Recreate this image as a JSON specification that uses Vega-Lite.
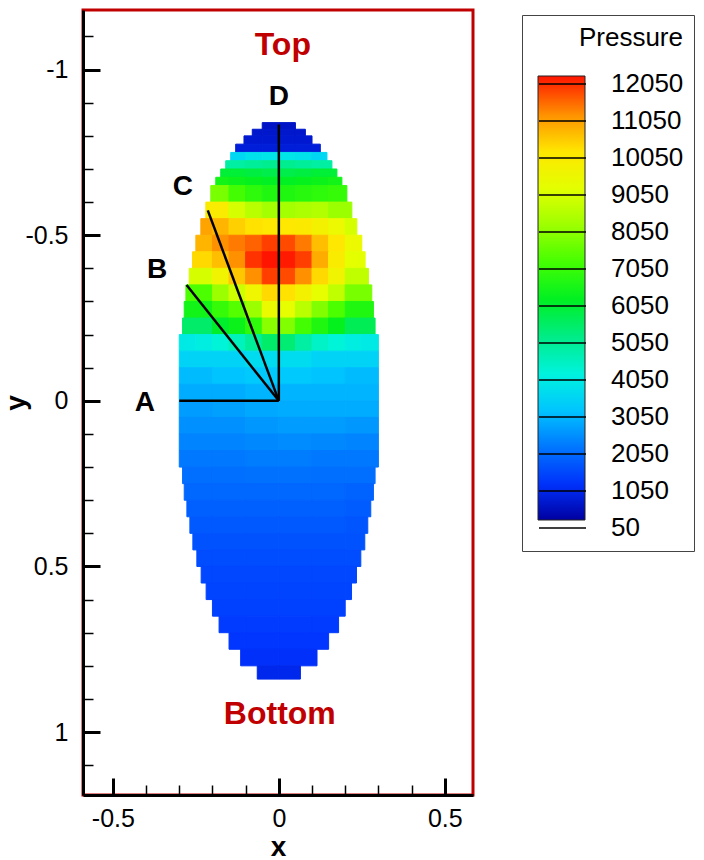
{
"$schema":"https://vega.github.io/schema/vega-lite/v6.json",
"width":390,"height":785,
"autosize":"none",
"padding":{"left":83,"top":10,"right":231,"bottom":65},
"config":{"view":{"stroke":"#c00000","strokeWidth":3},"font":"Liberation Sans"},
"datasets":{
"cells":[
{"x1":-0.05,"x2":0,"y1":-0.84,"y2":-0.82,"p":450},{"x1":0,"x2":0.05,"y1":-0.84,"y2":-0.82,"p":450},
{"x1":-0.08,"x2":-0.05,"y1":-0.82,"y2":-0.8,"p":500},{"x1":-0.05,"x2":0,"y1":-0.82,"y2":-0.8,"p":500},{"x1":0,"x2":0.05,"y1":-0.82,"y2":-0.8,"p":500},{"x1":0.05,"x2":0.08,"y1":-0.82,"y2":-0.8,"p":500},
{"x1":-0.105,"x2":-0.05,"y1":-0.8,"y2":-0.775,"p":550},{"x1":-0.05,"x2":0,"y1":-0.8,"y2":-0.775,"p":550},{"x1":0,"x2":0.05,"y1":-0.8,"y2":-0.775,"p":550},{"x1":0.05,"x2":0.1,"y1":-0.8,"y2":-0.775,"p":550},
{"x1":-0.13,"x2":-0.05,"y1":-0.775,"y2":-0.75,"p":650},{"x1":-0.05,"x2":0,"y1":-0.775,"y2":-0.75,"p":650},{"x1":0,"x2":0.05,"y1":-0.775,"y2":-0.75,"p":650},{"x1":0.05,"x2":0.125,"y1":-0.775,"y2":-0.75,"p":650},
{"x1":-0.145,"x2":-0.1,"y1":-0.75,"y2":-0.725,"p":3400},{"x1":-0.1,"x2":-0.05,"y1":-0.75,"y2":-0.725,"p":3600},{"x1":-0.05,"x2":0,"y1":-0.75,"y2":-0.725,"p":3700},{"x1":0,"x2":0.05,"y1":-0.75,"y2":-0.725,"p":3700},{"x1":0.05,"x2":0.1,"y1":-0.75,"y2":-0.725,"p":3600},{"x1":0.1,"x2":0.145,"y1":-0.75,"y2":-0.725,"p":3400},
{"x1":-0.16,"x2":-0.1,"y1":-0.725,"y2":-0.7,"p":4700},{"x1":-0.1,"x2":-0.05,"y1":-0.725,"y2":-0.7,"p":4800},{"x1":-0.05,"x2":0,"y1":-0.725,"y2":-0.7,"p":4900},{"x1":0,"x2":0.05,"y1":-0.725,"y2":-0.7,"p":4900},{"x1":0.05,"x2":0.1,"y1":-0.725,"y2":-0.7,"p":4800},{"x1":0.1,"x2":0.16,"y1":-0.725,"y2":-0.7,"p":4700},
{"x1":-0.175,"x2":-0.1,"y1":-0.7,"y2":-0.675,"p":5800},{"x1":-0.1,"x2":-0.05,"y1":-0.7,"y2":-0.675,"p":5700},{"x1":-0.05,"x2":0,"y1":-0.7,"y2":-0.675,"p":5600},{"x1":0,"x2":0.05,"y1":-0.7,"y2":-0.675,"p":5600},{"x1":0.05,"x2":0.1,"y1":-0.7,"y2":-0.675,"p":5700},{"x1":0.1,"x2":0.175,"y1":-0.7,"y2":-0.675,"p":5800},
{"x1":-0.19,"x2":-0.15,"y1":-0.675,"y2":-0.65,"p":6300},{"x1":-0.15,"x2":-0.1,"y1":-0.675,"y2":-0.65,"p":6200},{"x1":-0.1,"x2":-0.05,"y1":-0.675,"y2":-0.65,"p":6100},{"x1":-0.05,"x2":0,"y1":-0.675,"y2":-0.65,"p":6000},{"x1":0,"x2":0.05,"y1":-0.675,"y2":-0.65,"p":6000},{"x1":0.05,"x2":0.1,"y1":-0.675,"y2":-0.65,"p":6100},{"x1":0.1,"x2":0.15,"y1":-0.675,"y2":-0.65,"p":6200},{"x1":0.15,"x2":0.19,"y1":-0.675,"y2":-0.65,"p":6300},
{"x1":-0.205,"x2":-0.15,"y1":-0.65,"y2":-0.6,"p":7600},{"x1":-0.15,"x2":-0.1,"y1":-0.65,"y2":-0.6,"p":7000},{"x1":-0.1,"x2":-0.05,"y1":-0.65,"y2":-0.6,"p":6700},{"x1":-0.05,"x2":0,"y1":-0.65,"y2":-0.6,"p":6500},{"x1":0,"x2":0.05,"y1":-0.65,"y2":-0.6,"p":6500},{"x1":0.05,"x2":0.1,"y1":-0.65,"y2":-0.6,"p":6600},{"x1":0.1,"x2":0.15,"y1":-0.65,"y2":-0.6,"p":6700},{"x1":0.15,"x2":0.205,"y1":-0.65,"y2":-0.6,"p":6800},
{"x1":-0.22,"x2":-0.15,"y1":-0.6,"y2":-0.55,"p":9800},{"x1":-0.15,"x2":-0.1,"y1":-0.6,"y2":-0.55,"p":8800},{"x1":-0.1,"x2":-0.05,"y1":-0.6,"y2":-0.55,"p":8400},{"x1":-0.05,"x2":0,"y1":-0.6,"y2":-0.55,"p":8100},{"x1":0,"x2":0.05,"y1":-0.6,"y2":-0.55,"p":8100},{"x1":0.05,"x2":0.1,"y1":-0.6,"y2":-0.55,"p":8200},{"x1":0.1,"x2":0.15,"y1":-0.6,"y2":-0.55,"p":8300},{"x1":0.15,"x2":0.22,"y1":-0.6,"y2":-0.55,"p":8000},
{"x1":-0.235,"x2":-0.2,"y1":-0.55,"y2":-0.5,"p":10800},{"x1":-0.2,"x2":-0.15,"y1":-0.55,"y2":-0.5,"p":10600},{"x1":-0.15,"x2":-0.1,"y1":-0.55,"y2":-0.5,"p":10300},{"x1":-0.1,"x2":-0.05,"y1":-0.55,"y2":-0.5,"p":10100},{"x1":-0.05,"x2":0,"y1":-0.55,"y2":-0.5,"p":10000},{"x1":0,"x2":0.05,"y1":-0.55,"y2":-0.5,"p":10000},{"x1":0.05,"x2":0.1,"y1":-0.55,"y2":-0.5,"p":9900},{"x1":0.1,"x2":0.15,"y1":-0.55,"y2":-0.5,"p":9600},{"x1":0.15,"x2":0.2,"y1":-0.55,"y2":-0.5,"p":9300},{"x1":0.2,"x2":0.235,"y1":-0.55,"y2":-0.5,"p":8800},
{"x1":-0.25,"x2":-0.2,"y1":-0.5,"y2":-0.45,"p":10600},{"x1":-0.2,"x2":-0.15,"y1":-0.5,"y2":-0.45,"p":11000},{"x1":-0.15,"x2":-0.1,"y1":-0.5,"y2":-0.45,"p":11200},{"x1":-0.1,"x2":-0.05,"y1":-0.5,"y2":-0.45,"p":11400},{"x1":-0.05,"x2":0,"y1":-0.5,"y2":-0.45,"p":11700},{"x1":0,"x2":0.05,"y1":-0.5,"y2":-0.45,"p":11600},{"x1":0.05,"x2":0.1,"y1":-0.5,"y2":-0.45,"p":11200},{"x1":0.1,"x2":0.15,"y1":-0.5,"y2":-0.45,"p":10500},{"x1":0.15,"x2":0.2,"y1":-0.5,"y2":-0.45,"p":10000},{"x1":0.2,"x2":0.25,"y1":-0.5,"y2":-0.45,"p":9300},
{"x1":-0.26,"x2":-0.2,"y1":-0.45,"y2":-0.4,"p":10200},{"x1":-0.2,"x2":-0.15,"y1":-0.45,"y2":-0.4,"p":10500},{"x1":-0.15,"x2":-0.1,"y1":-0.45,"y2":-0.4,"p":11000},{"x1":-0.1,"x2":-0.05,"y1":-0.45,"y2":-0.4,"p":11800},{"x1":-0.05,"x2":0,"y1":-0.45,"y2":-0.4,"p":12050},{"x1":0,"x2":0.05,"y1":-0.45,"y2":-0.4,"p":12000},{"x1":0.05,"x2":0.1,"y1":-0.45,"y2":-0.4,"p":11700},{"x1":0.1,"x2":0.15,"y1":-0.45,"y2":-0.4,"p":10700},{"x1":0.15,"x2":0.2,"y1":-0.45,"y2":-0.4,"p":9800},{"x1":0.2,"x2":0.26,"y1":-0.45,"y2":-0.4,"p":9000},
{"x1":-0.27,"x2":-0.2,"y1":-0.4,"y2":-0.35,"p":8800},{"x1":-0.2,"x2":-0.15,"y1":-0.4,"y2":-0.35,"p":9500},{"x1":-0.15,"x2":-0.1,"y1":-0.4,"y2":-0.35,"p":10400},{"x1":-0.1,"x2":-0.05,"y1":-0.4,"y2":-0.35,"p":11000},{"x1":-0.05,"x2":0,"y1":-0.4,"y2":-0.35,"p":11700},{"x1":0,"x2":0.05,"y1":-0.4,"y2":-0.35,"p":11600},{"x1":0.05,"x2":0.1,"y1":-0.4,"y2":-0.35,"p":11000},{"x1":0.1,"x2":0.15,"y1":-0.4,"y2":-0.35,"p":10200},{"x1":0.15,"x2":0.2,"y1":-0.4,"y2":-0.35,"p":9500},{"x1":0.2,"x2":0.27,"y1":-0.4,"y2":-0.35,"p":8500},
{"x1":-0.28,"x2":-0.2,"y1":-0.35,"y2":-0.3,"p":7100},{"x1":-0.2,"x2":-0.15,"y1":-0.35,"y2":-0.3,"p":8000},{"x1":-0.15,"x2":-0.1,"y1":-0.35,"y2":-0.3,"p":8700},{"x1":-0.1,"x2":-0.05,"y1":-0.35,"y2":-0.3,"p":9400},{"x1":-0.05,"x2":0,"y1":-0.35,"y2":-0.3,"p":10200},{"x1":0,"x2":0.05,"y1":-0.35,"y2":-0.3,"p":10100},{"x1":0.05,"x2":0.1,"y1":-0.35,"y2":-0.3,"p":9600},{"x1":0.1,"x2":0.15,"y1":-0.35,"y2":-0.3,"p":9100},{"x1":0.15,"x2":0.2,"y1":-0.35,"y2":-0.3,"p":8500},{"x1":0.2,"x2":0.28,"y1":-0.35,"y2":-0.3,"p":7600},
{"x1":-0.285,"x2":-0.2,"y1":-0.3,"y2":-0.25,"p":6300},{"x1":-0.2,"x2":-0.15,"y1":-0.3,"y2":-0.25,"p":6800},{"x1":-0.15,"x2":-0.1,"y1":-0.3,"y2":-0.25,"p":7200},{"x1":-0.1,"x2":-0.05,"y1":-0.3,"y2":-0.25,"p":8000},{"x1":-0.05,"x2":0,"y1":-0.3,"y2":-0.25,"p":9200},{"x1":0,"x2":0.05,"y1":-0.3,"y2":-0.25,"p":9100},{"x1":0.05,"x2":0.1,"y1":-0.3,"y2":-0.25,"p":8400},{"x1":0.1,"x2":0.15,"y1":-0.3,"y2":-0.25,"p":7700},{"x1":0.15,"x2":0.2,"y1":-0.3,"y2":-0.25,"p":7100},{"x1":0.2,"x2":0.285,"y1":-0.3,"y2":-0.25,"p":6500},
{"x1":-0.29,"x2":-0.2,"y1":-0.25,"y2":-0.2,"p":5300},{"x1":-0.2,"x2":-0.15,"y1":-0.25,"y2":-0.2,"p":5900},{"x1":-0.15,"x2":-0.1,"y1":-0.25,"y2":-0.2,"p":6200},{"x1":-0.1,"x2":-0.05,"y1":-0.25,"y2":-0.2,"p":6700},{"x1":-0.05,"x2":0,"y1":-0.25,"y2":-0.2,"p":7800},{"x1":0,"x2":0.05,"y1":-0.25,"y2":-0.2,"p":7700},{"x1":0.05,"x2":0.1,"y1":-0.25,"y2":-0.2,"p":7000},{"x1":0.1,"x2":0.15,"y1":-0.25,"y2":-0.2,"p":6500},{"x1":0.15,"x2":0.2,"y1":-0.25,"y2":-0.2,"p":6100},{"x1":0.2,"x2":0.29,"y1":-0.25,"y2":-0.2,"p":5500},
{"x1":-0.3,"x2":-0.25,"y1":-0.2,"y2":-0.15,"p":3800},{"x1":-0.25,"x2":-0.2,"y1":-0.2,"y2":-0.15,"p":3900},{"x1":-0.2,"x2":-0.15,"y1":-0.2,"y2":-0.15,"p":4100},{"x1":-0.15,"x2":-0.1,"y1":-0.2,"y2":-0.15,"p":4400},{"x1":-0.1,"x2":-0.05,"y1":-0.2,"y2":-0.15,"p":4800},{"x1":-0.05,"x2":0,"y1":-0.2,"y2":-0.15,"p":5300},{"x1":0,"x2":0.05,"y1":-0.2,"y2":-0.15,"p":5200},{"x1":0.05,"x2":0.1,"y1":-0.2,"y2":-0.15,"p":4700},{"x1":0.1,"x2":0.15,"y1":-0.2,"y2":-0.15,"p":4300},{"x1":0.15,"x2":0.2,"y1":-0.2,"y2":-0.15,"p":4100},{"x1":0.2,"x2":0.25,"y1":-0.2,"y2":-0.15,"p":3900},{"x1":0.25,"x2":0.3,"y1":-0.2,"y2":-0.15,"p":3800},
{"x1":-0.3,"x2":-0.2,"y1":-0.15,"y2":-0.1,"p":3300},{"x1":-0.2,"x2":-0.1,"y1":-0.15,"y2":-0.1,"p":3300},{"x1":-0.1,"x2":0,"y1":-0.15,"y2":-0.1,"p":3500},{"x1":0,"x2":0.1,"y1":-0.15,"y2":-0.1,"p":3500},{"x1":0.1,"x2":0.2,"y1":-0.15,"y2":-0.1,"p":3300},{"x1":0.2,"x2":0.3,"y1":-0.15,"y2":-0.1,"p":3300},
{"x1":-0.3,"x2":-0.2,"y1":-0.1,"y2":-0.05,"p":2900},{"x1":-0.2,"x2":-0.1,"y1":-0.1,"y2":-0.05,"p":3000},{"x1":-0.1,"x2":0,"y1":-0.1,"y2":-0.05,"p":3100},{"x1":0,"x2":0.1,"y1":-0.1,"y2":-0.05,"p":3100},{"x1":0.1,"x2":0.2,"y1":-0.1,"y2":-0.05,"p":3000},{"x1":0.2,"x2":0.3,"y1":-0.1,"y2":-0.05,"p":2900},
{"x1":-0.3,"x2":-0.2,"y1":-0.05,"y2":0,"p":2700},{"x1":-0.2,"x2":-0.1,"y1":-0.05,"y2":0,"p":2700},{"x1":-0.1,"x2":0,"y1":-0.05,"y2":0,"p":2800},{"x1":0,"x2":0.1,"y1":-0.05,"y2":0,"p":2800},{"x1":0.1,"x2":0.2,"y1":-0.05,"y2":0,"p":2800},{"x1":0.2,"x2":0.3,"y1":-0.05,"y2":0,"p":2800},
{"x1":-0.3,"x2":-0.2,"y1":0,"y2":0.05,"p":2500},{"x1":-0.2,"x2":-0.1,"y1":0,"y2":0.05,"p":2550},{"x1":-0.1,"x2":0,"y1":0,"y2":0.05,"p":2650},{"x1":0,"x2":0.1,"y1":0,"y2":0.05,"p":2700},{"x1":0.1,"x2":0.2,"y1":0,"y2":0.05,"p":2700},{"x1":0.2,"x2":0.3,"y1":0,"y2":0.05,"p":2700},
{"x1":-0.3,"x2":-0.2,"y1":0.05,"y2":0.1,"p":2350},{"x1":-0.2,"x2":-0.1,"y1":0.05,"y2":0.1,"p":2350},{"x1":-0.1,"x2":0,"y1":0.05,"y2":0.1,"p":2450},{"x1":0,"x2":0.1,"y1":0.05,"y2":0.1,"p":2500},{"x1":0.1,"x2":0.2,"y1":0.05,"y2":0.1,"p":2500},{"x1":0.2,"x2":0.3,"y1":0.05,"y2":0.1,"p":2450},
{"x1":-0.3,"x2":-0.2,"y1":0.1,"y2":0.15,"p":2200},{"x1":-0.2,"x2":-0.1,"y1":0.1,"y2":0.15,"p":2200},{"x1":-0.1,"x2":0,"y1":0.1,"y2":0.15,"p":2250},{"x1":0,"x2":0.1,"y1":0.1,"y2":0.15,"p":2300},{"x1":0.1,"x2":0.2,"y1":0.1,"y2":0.15,"p":2250},{"x1":0.2,"x2":0.3,"y1":0.1,"y2":0.15,"p":2200},
{"x1":-0.3,"x2":-0.2,"y1":0.15,"y2":0.2,"p":2050},{"x1":-0.2,"x2":-0.1,"y1":0.15,"y2":0.2,"p":2050},{"x1":-0.1,"x2":0,"y1":0.15,"y2":0.2,"p":2100},{"x1":0,"x2":0.1,"y1":0.15,"y2":0.2,"p":2100},{"x1":0.1,"x2":0.2,"y1":0.15,"y2":0.2,"p":2050},{"x1":0.2,"x2":0.3,"y1":0.15,"y2":0.2,"p":2050},
{"x1":-0.29,"x2":-0.2,"y1":0.2,"y2":0.25,"p":1900},{"x1":-0.2,"x2":-0.1,"y1":0.2,"y2":0.25,"p":1900},{"x1":-0.1,"x2":0,"y1":0.2,"y2":0.25,"p":1950},{"x1":0,"x2":0.1,"y1":0.2,"y2":0.25,"p":1950},{"x1":0.1,"x2":0.2,"y1":0.2,"y2":0.25,"p":1900},{"x1":0.2,"x2":0.29,"y1":0.2,"y2":0.25,"p":1900},
{"x1":-0.285,"x2":-0.2,"y1":0.25,"y2":0.3,"p":1800},{"x1":-0.2,"x2":-0.1,"y1":0.25,"y2":0.3,"p":1800},{"x1":-0.1,"x2":0,"y1":0.25,"y2":0.3,"p":1800},{"x1":0,"x2":0.1,"y1":0.25,"y2":0.3,"p":1800},{"x1":0.1,"x2":0.2,"y1":0.25,"y2":0.3,"p":1800},{"x1":0.2,"x2":0.285,"y1":0.25,"y2":0.3,"p":1750},
{"x1":-0.277,"x2":-0.2,"y1":0.3,"y2":0.35,"p":1700},{"x1":-0.2,"x2":-0.1,"y1":0.3,"y2":0.35,"p":1700},{"x1":-0.1,"x2":0,"y1":0.3,"y2":0.35,"p":1700},{"x1":0,"x2":0.1,"y1":0.3,"y2":0.35,"p":1700},{"x1":0.1,"x2":0.2,"y1":0.3,"y2":0.35,"p":1700},{"x1":0.2,"x2":0.277,"y1":0.3,"y2":0.35,"p":1650},
{"x1":-0.268,"x2":-0.2,"y1":0.35,"y2":0.4,"p":1600},{"x1":-0.2,"x2":-0.1,"y1":0.35,"y2":0.4,"p":1600},{"x1":-0.1,"x2":0,"y1":0.35,"y2":0.4,"p":1600},{"x1":0,"x2":0.1,"y1":0.35,"y2":0.4,"p":1600},{"x1":0.1,"x2":0.2,"y1":0.35,"y2":0.4,"p":1600},{"x1":0.2,"x2":0.268,"y1":0.35,"y2":0.4,"p":1550},
{"x1":-0.259,"x2":-0.2,"y1":0.4,"y2":0.45,"p":1500},{"x1":-0.2,"x2":-0.1,"y1":0.4,"y2":0.45,"p":1500},{"x1":-0.1,"x2":0,"y1":0.4,"y2":0.45,"p":1500},{"x1":0,"x2":0.1,"y1":0.4,"y2":0.45,"p":1500},{"x1":0.1,"x2":0.2,"y1":0.4,"y2":0.45,"p":1500},{"x1":0.2,"x2":0.259,"y1":0.4,"y2":0.45,"p":1500},
{"x1":-0.247,"x2":-0.2,"y1":0.45,"y2":0.5,"p":1420},{"x1":-0.2,"x2":-0.1,"y1":0.45,"y2":0.5,"p":1420},{"x1":-0.1,"x2":0,"y1":0.45,"y2":0.5,"p":1420},{"x1":0,"x2":0.1,"y1":0.45,"y2":0.5,"p":1420},{"x1":0.1,"x2":0.2,"y1":0.45,"y2":0.5,"p":1420},{"x1":0.2,"x2":0.247,"y1":0.45,"y2":0.5,"p":1420},
{"x1":-0.234,"x2":-0.2,"y1":0.5,"y2":0.55,"p":1350},{"x1":-0.2,"x2":-0.1,"y1":0.5,"y2":0.55,"p":1350},{"x1":-0.1,"x2":0,"y1":0.5,"y2":0.55,"p":1350},{"x1":0,"x2":0.1,"y1":0.5,"y2":0.55,"p":1350},{"x1":0.1,"x2":0.2,"y1":0.5,"y2":0.55,"p":1350},{"x1":0.2,"x2":0.234,"y1":0.5,"y2":0.55,"p":1350},
{"x1":-0.219,"x2":-0.2,"y1":0.55,"y2":0.6,"p":1300},{"x1":-0.2,"x2":-0.1,"y1":0.55,"y2":0.6,"p":1300},{"x1":-0.1,"x2":0,"y1":0.55,"y2":0.6,"p":1300},{"x1":0,"x2":0.1,"y1":0.55,"y2":0.6,"p":1300},{"x1":0.1,"x2":0.2,"y1":0.55,"y2":0.6,"p":1300},{"x1":0.2,"x2":0.219,"y1":0.55,"y2":0.6,"p":1300},
{"x1":-0.2,"x2":-0.1,"y1":0.6,"y2":0.65,"p":1250},{"x1":-0.1,"x2":0,"y1":0.6,"y2":0.65,"p":1250},{"x1":0,"x2":0.1,"y1":0.6,"y2":0.65,"p":1250},{"x1":0.1,"x2":0.2,"y1":0.6,"y2":0.65,"p":1250},
{"x1":-0.18,"x2":-0.1,"y1":0.65,"y2":0.7,"p":1180},{"x1":-0.1,"x2":0,"y1":0.65,"y2":0.7,"p":1180},{"x1":0,"x2":0.1,"y1":0.65,"y2":0.7,"p":1180},{"x1":0.1,"x2":0.18,"y1":0.65,"y2":0.7,"p":1180},
{"x1":-0.15,"x2":-0.1,"y1":0.7,"y2":0.75,"p":1100},{"x1":-0.1,"x2":0,"y1":0.7,"y2":0.75,"p":1100},{"x1":0,"x2":0.1,"y1":0.7,"y2":0.75,"p":1100},{"x1":0.1,"x2":0.15,"y1":0.7,"y2":0.75,"p":1100},
{"x1":-0.115,"x2":0,"y1":0.75,"y2":0.8,"p":1000},{"x1":0,"x2":0.115,"y1":0.75,"y2":0.8,"p":1000},
{"x1":-0.065,"x2":0,"y1":0.8,"y2":0.84,"p":850},{"x1":0,"x2":0.065,"y1":0.8,"y2":0.84,"p":850}
],
"rays":[{"ray":"A","x":-0.3,"y":0},{"ray":"B","x":-0.278,"y":-0.35},{"ray":"C","x":-0.214,"y":-0.575},{"ray":"D","x":0,"y":-0.834}],
"marks":[{"label":"A","x":-0.404,"y":0.006},{"label":"B","x":-0.367,"y":-0.396},{"label":"C","x":-0.289,"y":-0.647},{"label":"D","x":0,"y":-0.918}],
"ends":[{"label":"Top","x":0.012,"y":-1.075},{"label":"Bottom","x":0.003,"y":0.946}],
"levels":[{"level":12050},{"level":11050},{"level":10050},{"level":9050},{"level":8050},{"level":7050},{"level":6050},{"level":5050},{"level":4050},{"level":3050},{"level":2050},{"level":1050},{"level":50}]
},
"layer":[
{"data":{"name":"cells"},
 "mark":{"type":"rect","strokeWidth":1,"stroke":{"expr":"scale('color', datum.p)"}},
 "encoding":{
  "x":{"field":"x1","type":"quantitative","scale":{"domain":[-0.59,0.585],"nice":false,"zero":false},
   "axis":{"title":"x","titleFontSize":28,"titleFontWeight":"bold","titleColor":"black","titlePadding":-5,
    "values":[-0.5,-0.4,-0.3,-0.2,-0.1,0,0.1,0.2,0.3,0.4,0.5],"tickCount":100,
    "labelExpr":"abs(datum.value*2-round(datum.value*2))<0.001 ? ''+datum.value : ''",
    "labelFontSize":25,"labelColor":"black","labelPadding":28,"labelFlush":false,"labelOverlap":false,"labelBound":false,
    "tickSize":{"condition":{"test":"abs(datum.value*2-round(datum.value*2))<0.001","value":-17},"value":-10},
    "tickWidth":{"condition":{"test":"abs(datum.value*2-round(datum.value*2))<0.001","value":3},"value":1.5},
    "tickColor":"black","domainColor":"black","domainWidth":3,"grid":false}},
  "x2":{"field":"x2"},
  "y":{"field":"y1","type":"quantitative","scale":{"domain":[-1.18,1.19],"nice":false,"zero":false,"reverse":true},
   "axis":{"title":"y","titleFontSize":28,"titleFontWeight":"bold","titleColor":"black","titlePadding":-6,
    "values":[-1.1,-1,-0.9,-0.8,-0.7,-0.6,-0.5,-0.4,-0.3,-0.2,-0.1,0,0.1,0.2,0.3,0.4,0.5,0.6,0.7,0.8,0.9,1,1.1],"tickCount":100,
    "labelExpr":"abs(datum.value*2-round(datum.value*2))<0.001 ? ''+datum.value : ''",
    "labelFontSize":25,"labelColor":"black","labelPadding":32,"labelFlush":false,"labelOverlap":false,"labelBound":false,
    "tickSize":{"condition":{"test":"abs(datum.value*2-round(datum.value*2))<0.001","value":-17},"value":-10},
    "tickWidth":{"condition":{"test":"abs(datum.value*2-round(datum.value*2))<0.001","value":3},"value":1.5},
    "tickColor":"black","domainColor":"black","domainWidth":3,"grid":false}},
  "y2":{"field":"y2"},
  "color":{"field":"p","type":"quantitative",
   "scale":{"domain":[50,1050,2050,3050,4050,5050,6050,7050,8050,9050,10050,11050,12050],
    "range":["#0000a0","#0032ff","#0078ff","#00c8ff","#00f5dc","#00eb82","#00f01e","#46ff00","#a0ff00","#e6ff00","#ffe600","#ff8c00","#ff1400"],"interpolate":"rgb"},
   "legend":{"type":"gradient","orient":"none","legendX":455,"legendY":66,"direction":"vertical","gradientLength":444,"gradientThickness":47,"title":null,"labelOpacity":0,"labelExpr":"''","padding":0,"gradientStrokeColor":"#222222","gradientStrokeWidth":1,
    "values":[50,1050,2050,3050,4050,5050,6050,7050,8050,9050,10050,11050,12050]}}
 }},
{"data":{"name":"rays"},
 "mark":{"type":"rule","color":"black","strokeWidth":2.5},
 "encoding":{
  "x":{"field":"x","type":"quantitative","scale":{"domain":[-0.59,0.585],"nice":false,"zero":false}},
  "y":{"field":"y","type":"quantitative","scale":{"domain":[-1.18,1.19],"nice":false,"zero":false,"reverse":true}},
  "x2":{"datum":0},"y2":{"datum":0}}},
{"data":{"name":"marks"},
 "mark":{"type":"text","fontSize":28,"fontWeight":"bold","color":"black","font":"Liberation Sans"},
 "encoding":{
  "x":{"field":"x","type":"quantitative","scale":{"domain":[-0.59,0.585],"nice":false,"zero":false}},
  "y":{"field":"y","type":"quantitative","scale":{"domain":[-1.18,1.19],"nice":false,"zero":false,"reverse":true}},
  "text":{"field":"label"}}},
{"data":{"name":"ends"},
 "mark":{"type":"text","fontSize":32,"fontWeight":"bold","color":"#c00000","font":"Liberation Sans"},
 "encoding":{
  "x":{"field":"x","type":"quantitative","scale":{"domain":[-0.59,0.585],"nice":false,"zero":false}},
  "y":{"field":"y","type":"quantitative","scale":{"domain":[-1.18,1.19],"nice":false,"zero":false,"reverse":true}},
  "text":{"field":"label"}}},
{"data":{"name":"levels"},
 "mark":{"type":"point","opacity":0,"filled":false},
 "encoding":{
  "shape":{"field":"level","type":"ordinal",
   "scale":{"domain":[12050,11050,10050,9050,8050,7050,6050,5050,4050,3050,2050,1050,50],"range":["stroke"]},
   "legend":{"orient":"none","legendX":439,"legendY":5,"title":"Pressure","titleFontSize":26,"titleFontWeight":"normal","titleColor":"black","titleAnchor":"end","titlePadding":22,
    "padding":10,"strokeColor":"#444444",
    "symbolSize":2209,"symbolStrokeWidth":1.5,"symbolStrokeColor":"black","symbolOffset":6,
    "labelFontSize":26,"labelColor":"black","labelOffset":24,
    "clipHeight":22,"rowPadding":11,
    "encode":{"legend":{"update":{"strokeWidth":{"value":1.5}}},
     "symbols":{"update":{"opacity":{"value":1},"stroke":{"value":"black"},"strokeWidth":{"value":1.5},"y":{"value":4}}}}}}
 }}
]
}
